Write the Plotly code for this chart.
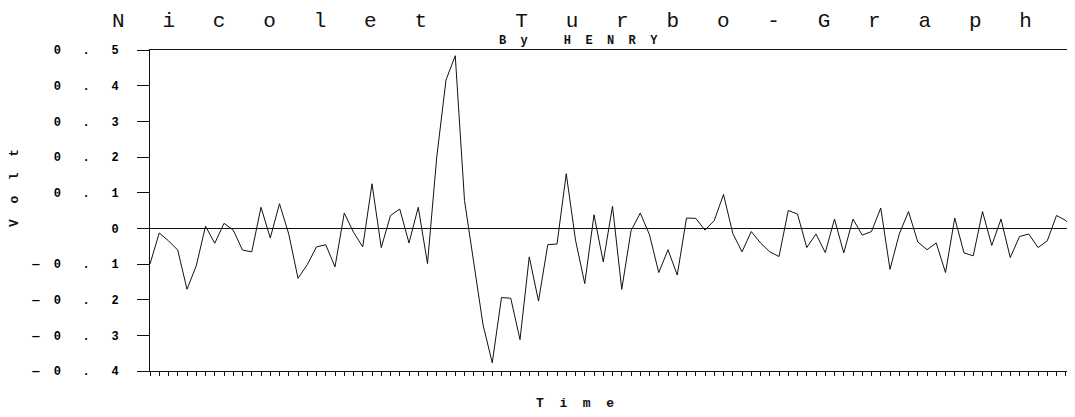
import plotly.graph_objects as go

# Sample index (time steps) and measured voltage
time_idx = list(range(101))
volts = [
    -0.100, -0.013, -0.035, -0.061, -0.171, -0.105, 0.006, -0.042, 0.014, -0.005,
    -0.061, -0.066, 0.059, -0.027, 0.069, -0.016, -0.140, -0.102, -0.052, -0.046,
    -0.108, 0.043, -0.011, -0.052, 0.125,
    -0.054, 0.036, 0.054, -0.041, 0.059, -0.099, 0.200, 0.416, 0.484, 0.078,
    -0.090, -0.270, -0.377, -0.194, -0.196, -0.312, -0.080, -0.204, -0.046, -0.044,
    0.153, -0.033, -0.155, 0.038, -0.094,
    0.062, -0.171, -0.007, 0.043, -0.018, -0.124, -0.060, -0.131, 0.029, 0.028,
    -0.005, 0.022, 0.095, -0.014, -0.066, -0.009, -0.041, -0.066, -0.079, 0.050,
    0.040, -0.054, -0.016, -0.068, 0.026,
    -0.069, 0.026, -0.019, -0.009, 0.057, -0.115, -0.016, 0.047, -0.038, -0.060,
    -0.041, -0.124, 0.029, -0.069, -0.077, 0.047, -0.048, 0.026, -0.082, -0.023,
    -0.016, -0.054, -0.035, 0.036, 0.022, -0.007,
]

y_tick_vals = [0.5, 0.4, 0.3, 0.2, 0.1, 0.0, -0.1, -0.2, -0.3, -0.4]
y_tick_text = ["0   .   5", "0   .   4", "0   .   3", "0   .   2", "0   .   1", "0",
               "—  0   .   1", "—  0   .   2", "—  0   .   3", "—  0   .   4"]

title_text = "N   i   c   o   l   e   t       T   u   r   b   o   -   G   r   a   p   h"
subtitle_text = "B  y     H  E  N  R  Y"
x_label = "T  i  m  e"
y_label = "V  o  l  t"

INK = "#111111"
MONO = "Liberation Mono, DejaVu Sans Mono, monospace"

# page coordinates of the plot area (the page body has an 8 px margin)
PL, PR, PT, PB = 150, 1075, 50, 371
PW, PH = PR - PL, PB - PT


def px(x):
    return (x - PL) / PW


def py(y):
    return (PB - y) / PH


fig = go.Figure()
fig.add_trace(go.Scatter(
    x=time_idx, y=volts, mode="lines",
    line=dict(color=INK, width=1),
    hoverinfo="skip", showlegend=False,
))

fig.update_layout(
    width=1067, height=409,
    margin=dict(l=PL - 8, r=0, t=PT - 8, b=409 + 8 - PB),
    paper_bgcolor="white", plot_bgcolor="white",
    font=dict(family=MONO, color=INK),
    showlegend=False,
)

fig.update_xaxes(
    range=[0, 100],
    showgrid=False, zeroline=False,
    showline=True, linecolor=INK, linewidth=1, mirror=True,
    ticks="outside", ticklen=4, tickwidth=1, tickcolor=INK,
    tickmode="linear", tick0=0, dtick=1,
    showticklabels=False,
)

fig.update_yaxes(
    range=[-0.4, 0.5],
    showgrid=False,
    zeroline=True, zerolinecolor=INK, zerolinewidth=1,
    showline=True, linecolor=INK, linewidth=1,
    ticks="outside", ticklen=12, tickwidth=1, tickcolor=INK,
    tickmode="array", tickvals=y_tick_vals, ticktext=y_tick_text,
    tickfont=dict(family=MONO, size=12, color="#000000", weight="bold"),
    ticklabelstandoff=16,
)

fig.add_annotation(text=title_text, xref="paper", yref="paper",
                   x=px(572), y=py(22),
                   showarrow=False, xanchor="center", yanchor="middle",
                   font=dict(family=MONO, size=21, color=INK))
fig.add_annotation(text=subtitle_text, xref="paper", yref="paper",
                   x=px(578), y=py(41),
                   showarrow=False, xanchor="center", yanchor="middle",
                   font=dict(family=MONO, size=12, color=INK, weight="bold"))
fig.add_annotation(text=x_label, xref="paper", yref="paper",
                   x=px(575), y=py(404),
                   showarrow=False, xanchor="center", yanchor="middle",
                   font=dict(family=MONO, size=13, color=INK, weight="bold"))
fig.add_annotation(text=y_label, xref="paper", yref="paper",
                   x=px(14), y=py(188),
                   showarrow=False, xanchor="center", yanchor="middle", textangle=-90,
                   font=dict(family=MONO, size=13, color=INK, weight="bold"))

fig.write_html("out.html")
